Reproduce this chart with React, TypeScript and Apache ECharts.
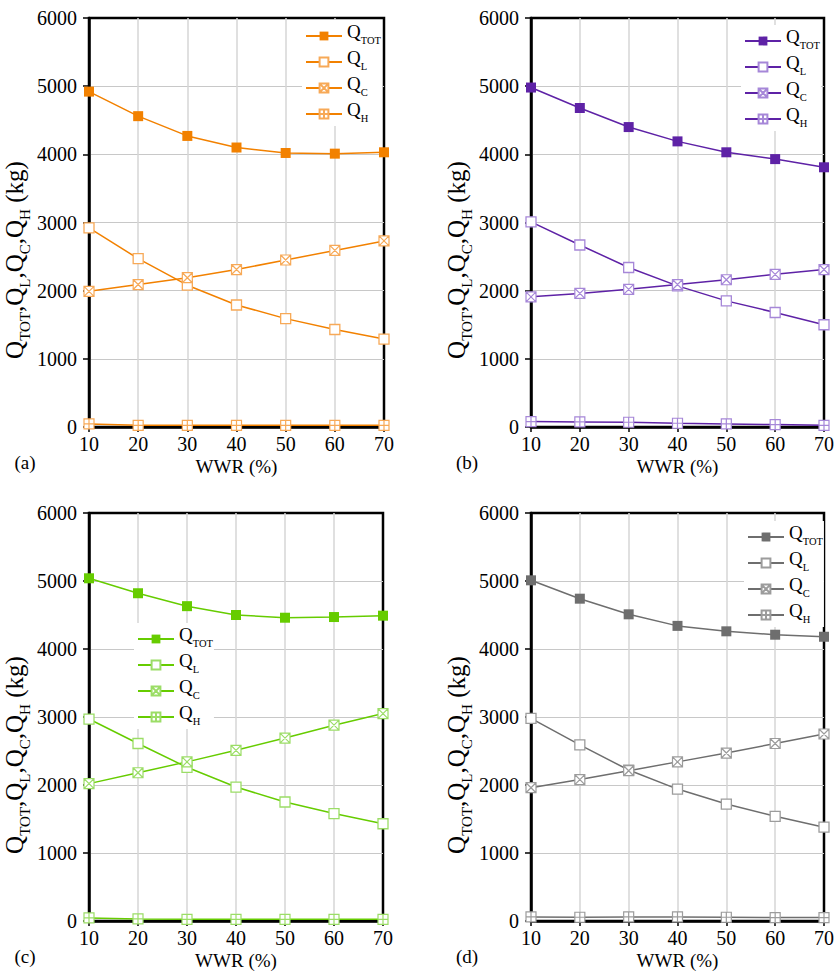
import { useEffect, useRef } from 'react';
import * as echarts from 'echarts';

const wwr = [10, 20, 30, 40, 50, 60, 70];
const seriesKeys = ['TOT', 'L', 'C', 'H'];
const panelLetters = ['a', 'b', 'c', 'd'];

const aTot = [4920, 4560, 4270, 4100, 4020, 4010, 4030];
const aL = [2920, 2470, 2080, 1790, 1590, 1430, 1290];
const aC = [1990, 2090, 2190, 2310, 2450, 2590, 2730];
const aH = [45, 25, 25, 25, 25, 25, 25];

const bTot = [4980, 4680, 4400, 4190, 4030, 3930, 3810];
const bL = [3010, 2670, 2340, 2070, 1850, 1680, 1500];
const bC = [1910, 1960, 2020, 2090, 2160, 2240, 2310];
const bH = [80, 75, 70, 55, 45, 35, 25];

const cTot = [5040, 4820, 4630, 4500, 4460, 4470, 4490];
const cL = [2970, 2610, 2260, 1970, 1750, 1580, 1430];
const cC = [2020, 2180, 2340, 2510, 2690, 2880, 3050];
const cH = [45, 30, 25, 25, 25, 25, 25];

const dTot = [5010, 4740, 4510, 4340, 4260, 4210, 4180];
const dL = [2980, 2590, 2220, 1940, 1720, 1540, 1380];
const dC = [1960, 2080, 2210, 2340, 2470, 2610, 2750];
const dH = [60, 55, 60, 60, 55, 50, 50];

const panelData = [
  [aTot, aL, aC, aH],
  [bTot, bL, bC, bH],
  [cTot, cL, cC, cH],
  [dTot, dL, dC, dH],
];

const mainColors = ['#F28100', '#5E22A6', '#66CC00', '#6E6E6E'];
const lightColors = ['#F7A957', '#A687D8', '#9BDD66', '#9C9C9C'];

const FONT = '"Liberation Serif", "Times New Roman", serif';

const grids = [
  { left: 89, top: 18, width: 295, height: 409 },
  { left: 531, top: 18, width: 295, height: 409 },
  { left: 89, top: 513, width: 294, height: 408 },
  { left: 531, top: 513, width: 294, height: 408 },
];

const legendPos = [
  { left: 302, top: 20 },
  { left: 741, top: 25 },
  { left: 134, top: 623 },
  { left: 744, top: 521 },
];

const SYM_C = 'path://M0,0L10,0L10,10L0,10Z M0,0L10,10 M10,0L0,10';
const SYM_H = 'path://M0,0L10,0L10,10L0,10Z M5,0L5,10 M0,5L10,5';

const richQ = {
  q: { fontSize: 19, fontFamily: FONT, color: '#000', verticalAlign: 'bottom', padding: [0, 0, 5, 0], lineHeight: 20 },
  s: { fontSize: 10.5, fontFamily: FONT, color: '#000', verticalAlign: 'bottom', lineHeight: 13 },
};
const richTitle = {
  q: { fontSize: 25, fontFamily: FONT, color: '#000', verticalAlign: 'bottom', padding: [0, 0, 6, 0], lineHeight: 25 },
  s: { fontSize: 15, fontFamily: FONT, color: '#000', verticalAlign: 'bottom', lineHeight: 17 },
};

export default function App() {
  const ref = useRef<HTMLDivElement>(null);
  useEffect(() => {
    if (!ref.current) return;
    const chart = echarts.init(ref.current, null, { renderer: 'svg' });

    const series: any[] = [];
    const legends: any[] = [];
    const xAxes: any[] = [];
    const yAxes: any[] = [];
    const graphics: any[] = [];

    panelLetters.forEach((p, pi) => {
      const main = mainColors[pi];
      const light = lightColors[pi];
      xAxes.push({
        type: 'value', gridIndex: pi, min: 10, max: 70, interval: 10,
        axisLine: { show: true, onZero: false, lineStyle: { color: '#000', width: 2.5 } },
        axisTick: { show: true, length: 5, lineStyle: { color: '#000', width: 1.5 } },
        splitLine: { show: true, showMinLine: false, showMaxLine: false, lineStyle: { color: '#d6d6d6', width: 1.5 } },
        axisLabel: { fontSize: 20, fontFamily: FONT, color: '#000', margin: 7 },
        name: 'WWR (%)', nameLocation: 'middle', nameGap: 30,
        nameTextStyle: { fontSize: 19, fontFamily: FONT, color: '#000' },
      });
      yAxes.push({
        type: 'value', gridIndex: pi, min: 0, max: 6000, interval: 1000,
        axisLine: { show: true, lineStyle: { color: '#000', width: 2.5 } },
        axisTick: { show: true, length: 6, lineStyle: { color: '#000', width: 1.5 } },
        splitLine: { show: true, showMinLine: false, showMaxLine: false, lineStyle: { color: '#c8c8c8', width: 1.2 } },
        axisLabel: { fontSize: 20, fontFamily: FONT, color: '#000', margin: 12, formatter: (v: number) => String(v) },
      });
      const names: string[] = [];
      seriesKeys.forEach((k, si) => {
        const name = `Q_${k}_${p}`;
        names.push(name);
        const vals = panelData[pi][si];
        let symbol: string = 'rect';
        let itemStyle: any = { color: main };
        if (k === 'L') itemStyle = { color: '#fff', borderColor: light, borderWidth: 1.3 };
        if (k === 'C') { symbol = SYM_C; itemStyle = { color: '#fff', borderColor: light, borderWidth: 1.2 }; }
        if (k === 'H') { symbol = SYM_H; itemStyle = { color: '#fff', borderColor: light, borderWidth: 1.2 }; }
        series.push({
          type: 'line', name, xAxisIndex: pi, yAxisIndex: pi,
          data: wwr.map((x, i) => [x, vals[i]]),
          symbol, symbolSize: 10,
          showAllSymbol: true,
          lineStyle: { color: main, width: 1.5 },
          itemStyle,
          z: 3,
        });
      });
      legends.push({
        orient: 'vertical', ...legendPos[pi],
        itemWidth: 36, itemHeight: 11, itemGap: 2,
        padding: [2, 1, 2, 3],
        backgroundColor: '#fff',
        selectedMode: false,
        data: names,
        formatter: (n: string) => `{q|Q}{s|${n.split('_')[1]}}`,
        textStyle: { rich: richQ },
      });
      const gx = grids[pi].left;
      const gy = grids[pi].top;
      graphics.push({
        type: 'text', x: gx - 69, y: gy + 242, rotation: Math.PI / 2,
        style: {
          text: '{q|Q}{s|TOT}{q|,Q}{s|L}{q|,Q}{s|C}{q|,Q}{s|H}{q| (kg)}',
          rich: richTitle, align: 'center', verticalAlign: 'middle',
        },
      });
      graphics.push({
        type: 'text', x: gx - 64, y: gy + grids[pi].height + 35,
        style: { text: `(${p})`, fontSize: 19, fontFamily: FONT, fill: '#000', align: 'center', verticalAlign: 'middle' },
      });
    });

    chart.setOption({
      animation: false,
      backgroundColor: '#fff',
      grid: grids.map((g) => ({ ...g, show: true, borderColor: '#000', borderWidth: 2.5, backgroundColor: 'transparent' })),
      xAxis: xAxes,
      yAxis: yAxes,
      legend: legends,
      series,
      graphic: graphics,
    });
    return () => chart.dispose();
  }, []);
  return <div ref={ref} style={{ position: 'absolute', left: 0, top: 0, width: 837, height: 976, background: '#fff' }} />;
}
